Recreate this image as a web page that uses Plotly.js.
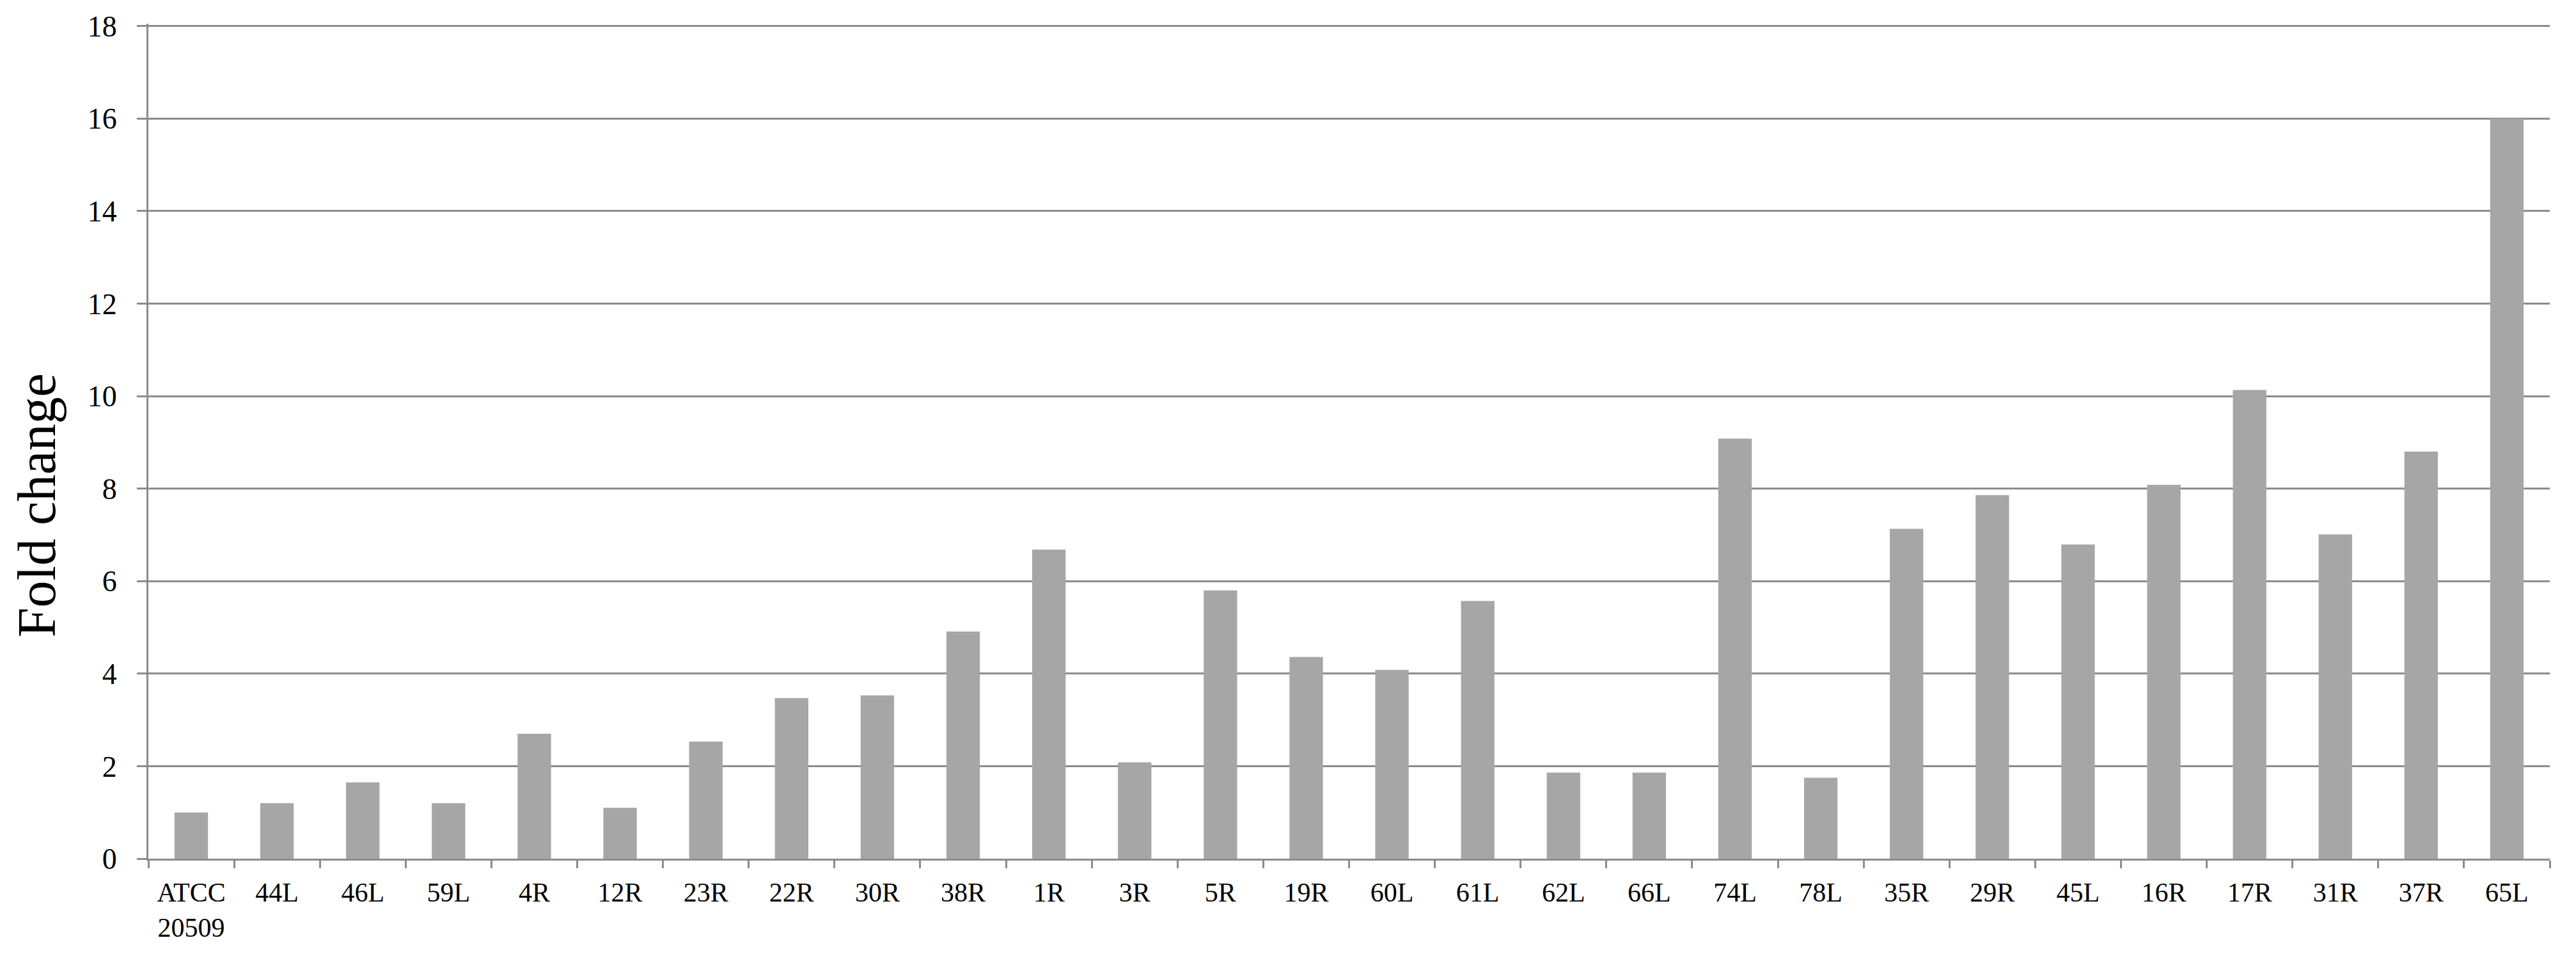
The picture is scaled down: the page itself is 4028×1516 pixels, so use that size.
<!DOCTYPE html>
<html>
<head>
<meta charset="utf-8">
<script src="https://cdn.plot.ly/plotly-3.0.1.min.js"></script>
<style>html,body{margin:0;padding:0;background:#fff;}#chart{width:4028px;height:1516px;}</style>
</head>
<body>
<div id="chart"></div>
<script>
const strains = ["ATCC<br>20509","44L","46L","59L","4R","12R","23R","22R","30R","38R",
  "1R","3R","5R","19R","60L","61L","62L","66L","74L","78L",
  "35R","29R","45L","16R","17R","31R","37R","65L"];
const foldChange = [1.0,1.2,1.65,1.2,2.7,1.1,2.53,3.47,3.53,4.91,
  6.68,2.08,5.8,4.36,4.08,5.57,1.86,1.86,9.08,1.75,
  7.13,7.86,6.79,8.08,10.13,7.01,8.8,16.0];
const yTicks = [0,2,4,6,8,10,12,14,16,18];
const yTitle = "Fold change";

const axisGray = "#8c8c8c";
const serif = "Liberation Serif, Times New Roman, serif";

Plotly.newPlot("chart", [{
  type: "bar",
  x: strains,
  y: foldChange,
  marker: {color: "#a6a6a6"},
  hoverinfo: "x+y"
}], {
  width: 4028, height: 1516,
  margin: {l: 232, r: 41, t: 37, b: 174, pad: 0},
  paper_bgcolor: "#ffffff", plot_bgcolor: "#ffffff",
  bargap: 0.61,
  showlegend: false,
  font: {family: serif, color: "#000000"},
  xaxis: {
    type: "category",
    showline: true, linecolor: axisGray, linewidth: 3,
    ticks: "outside", tickson: "boundaries", ticklen: 12, tickwidth: 3, tickcolor: axisGray,
    showgrid: false, zeroline: false,
    tickfont: {family: serif, size: 42, color: "#000"},
    ticklabelstandoff: 14,
    tickangle: 0
  },
  yaxis: {
    range: [0, 18.05], tickvals: yTicks, ticktext: yTicks.map(String),
    showline: true, linecolor: axisGray, linewidth: 3,
    ticks: "outside", ticklen: 15, tickwidth: 3, tickcolor: axisGray,
    showgrid: true, gridcolor: axisGray, gridwidth: 3,
    zeroline: false,
    tickfont: {family: serif, size: 46, color: "#000"},
    ticklabelstandoff: 22
  },
  annotations: [{
    text: yTitle, textangle: -90,
    xref: "paper", yref: "paper",
    x: -0.0463, y: 0.423, xanchor: "center", yanchor: "middle",
    showarrow: false,
    font: {family: serif, size: 84, color: "#000"}
  }]
}, {staticPlot: true});
</script>
</body>
</html>
